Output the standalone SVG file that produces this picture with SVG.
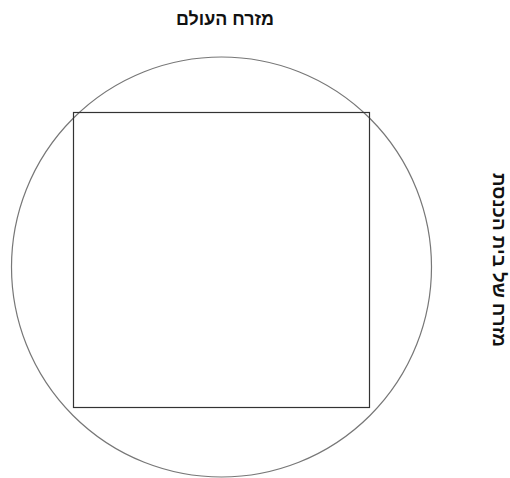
<svg xmlns="http://www.w3.org/2000/svg" width="510" height="478" viewBox="0 0 510 478">
<style>
.lbl{font-family:"Liberation Sans","DejaVu Sans",sans-serif;font-weight:bold;font-size:18px;fill:#111;text-anchor:middle}
</style>
<rect width="510" height="478" fill="#fff"/>
<g id="circle"><circle cx="221.5" cy="267" r="210" fill="none" stroke="#777" stroke-width="1.2"/></g>
<g id="square"><rect x="73.5" y="112.5" width="296" height="295" fill="none" stroke="#333" stroke-width="1.2"/></g>
<g id="title"><text class="lbl" x="225" y="25" direction="rtl" textLength="98" lengthAdjust="spacingAndGlyphs">מזרח העולם</text></g>
<g id="side"><text class="lbl" transform="translate(493,260) rotate(90)" x="0" y="0" direction="rtl" textLength="174" lengthAdjust="spacingAndGlyphs">מזרח של בית הכנסת</text></g>
</svg>
